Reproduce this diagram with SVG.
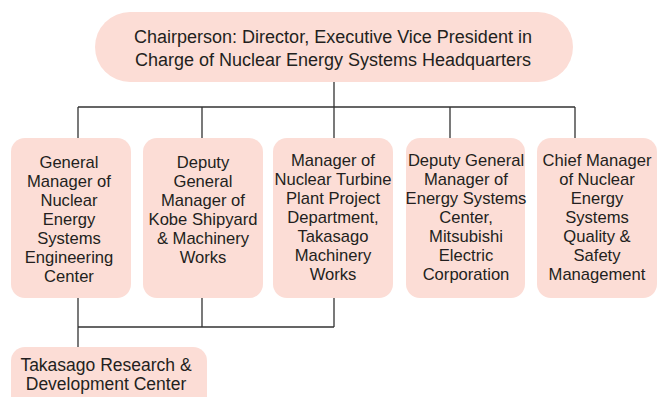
<svg xmlns="http://www.w3.org/2000/svg" width="658" height="397" viewBox="0 0 658 397">
<style>
.box{fill:#FCDDD6;}
.t{font-family:"Liberation Sans",Arial,Helvetica,sans-serif;font-size:16.6px;fill:#231F20;text-anchor:middle;}
.tt{font-size:18px;}
.tb{font-size:17.5px;}
.ln{stroke:#333;stroke-width:1.3;fill:none;}
</style>
<rect width="658" height="397" fill="#fff"/>
<g id="connectors">
<path class="ln" d="M334 82V107M78 107H575M78 107V138M202 107V138M334 107V138M450 107V138M575 107V138"/>
<path class="ln" d="M78 298V347M202 298V327M334 298V327M78 327H334"/>
</g>
<g id="chair">
<rect class="box" x="95" y="12" width="478" height="70" rx="35"/>
<text class="t tt" x="333" y="43">Chairperson: Director, Executive Vice President in</text>
<text class="t tt" x="333" y="66">Charge of Nuclear Energy Systems Headquarters</text>
</g>
<g id="n1">
<rect class="box" x="11" y="138" width="120" height="160" rx="14"/>
<text class="t" x="69" y="168">General</text>
<text class="t" x="69" y="187">Manager of</text>
<text class="t" x="69" y="206">Nuclear</text>
<text class="t" x="69" y="225">Energy</text>
<text class="t" x="69" y="244">Systems</text>
<text class="t" x="69" y="263">Engineering</text>
<text class="t" x="69" y="282">Center</text>
</g>
<g id="n2">
<rect class="box" x="143" y="138" width="120" height="160" rx="14"/>
<text class="t" x="203" y="168">Deputy</text>
<text class="t" x="203" y="187">General</text>
<text class="t" x="203" y="206">Manager of</text>
<text class="t" x="203" y="225">Kobe Shipyard</text>
<text class="t" x="203" y="244">&amp; Machinery</text>
<text class="t" x="203" y="263">Works</text>
</g>
<g id="n3">
<rect class="box" x="273" y="138" width="120" height="160" rx="14"/>
<text class="t" x="333" y="166">Manager of</text>
<text class="t" x="333" y="185">Nuclear Turbine</text>
<text class="t" x="333" y="204">Plant Project</text>
<text class="t" x="333" y="223">Department,</text>
<text class="t" x="333" y="242">Takasago</text>
<text class="t" x="333" y="261">Machinery</text>
<text class="t" x="333" y="280">Works</text>
</g>
<g id="n4">
<rect class="box" x="406" y="138" width="119" height="160" rx="14"/>
<text class="t" x="466" y="166">Deputy General</text>
<text class="t" x="466" y="185">Manager of</text>
<text class="t" x="466" y="204">Energy Systems</text>
<text class="t" x="466" y="223">Center,</text>
<text class="t" x="466" y="242">Mitsubishi</text>
<text class="t" x="466" y="261">Electric</text>
<text class="t" x="466" y="280">Corporation</text>
</g>
<g id="n5">
<rect class="box" x="537" y="138" width="120" height="160" rx="14"/>
<text class="t" x="597" y="166">Chief Manager</text>
<text class="t" x="597" y="185">of Nuclear</text>
<text class="t" x="597" y="204">Energy</text>
<text class="t" x="597" y="223">Systems</text>
<text class="t" x="597" y="242">Quality &amp;</text>
<text class="t" x="597" y="261">Safety</text>
<text class="t" x="597" y="280">Management</text>
</g>
<g id="n6">
<rect class="box" x="11" y="347" width="196" height="70" rx="14"/>
<text class="t tb" x="106" y="371">Takasago Research &amp;</text>
<text class="t tb" x="106" y="390">Development Center</text>
</g>
</svg>
